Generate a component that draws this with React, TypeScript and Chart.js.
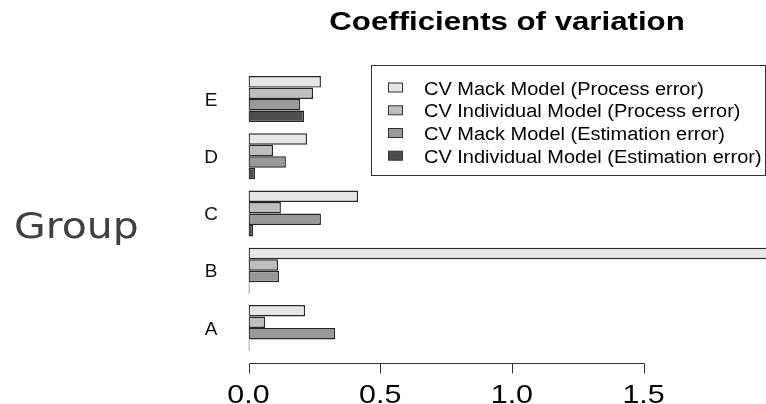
import React, { useEffect, useRef } from "react";
import { Chart, registerables } from "chart.js";

Chart.register(...registerables);

const categories = ["E", "D", "C", "B", "A"];
const seriesNames = [
  "CV Mack Model (Process error)",
  "CV Individual Model (Process error)",
  "CV Mack Model (Estimation error)",
  "CV Individual Model (Estimation error)",
];
const mackProcess = [0.275, 0.222, 0.416, 2.0, 0.215];
const indivProcess = [0.245, 0.093, 0.123, 0.112, 0.063];
const mackEstimation = [0.196, 0.142, 0.275, 0.116, 0.329];
const indivEstimation = [0.211, 0.025, 0.017, 0.004, 0.004];
const xTicks = [0, 0.5, 1.0, 1.5];
const seriesColors = ["#e6e6e6", "#bebebe", "#999999", "#4d4d4d"];

const SANS = "'Liberation Sans', Arial, sans-serif";

function drawText(
  ctx: CanvasRenderingContext2D,
  text: string,
  x: number,
  y: number,
  font: string,
  color: string,
  align: CanvasTextAlign,
  baseline: CanvasTextBaseline,
  sx: number
) {
  ctx.save();
  ctx.translate(x, y);
  ctx.scale(sx, 1);
  ctx.font = font;
  ctx.fillStyle = color;
  ctx.textAlign = align;
  ctx.textBaseline = baseline;
  ctx.fillText(text, 0, 0);
  ctx.restore();
}

const decorPlugin = {
  id: "decor",
  afterDraw(chart: any) {
    const ctx: CanvasRenderingContext2D = chart.ctx;
    const xs = chart.scales.x;
    const ys = chart.scales.y;

    // Title
    drawText(ctx, "Coefficients of variation", 507, 29.5, `bold 26px ${SANS}`, "#000", "center", "alphabetic", 1.2);

    // Y axis title
    drawText(ctx, "Group", 14, 238, "35px 'DejaVu Sans', sans-serif", "#3d4145", "left", "alphabetic", 1.17);

    // Category labels
    categories.forEach((c, i) => {
      const y = ys.getPixelForValue(i);
      drawText(ctx, c, 211, y + 1.5, `19px ${SANS}`, "#111", "center", "middle", 1.0);
    });

    // X axis
    const axisY = 363.5;
    ctx.save();
    ctx.strokeStyle = "#333";
    ctx.lineWidth = 1;
    ctx.beginPath();
    const x0 = Math.round(xs.getPixelForValue(xTicks[0])) + 0.5;
    const x1 = Math.round(xs.getPixelForValue(xTicks[xTicks.length - 1])) + 0.5;
    ctx.moveTo(x0, axisY);
    ctx.lineTo(x1, axisY);
    xTicks.forEach((t) => {
      const px = Math.round(xs.getPixelForValue(t)) + 0.5;
      ctx.moveTo(px, axisY);
      ctx.lineTo(px, axisY + 10);
    });
    ctx.stroke();
    ctx.restore();
    xTicks.forEach((t) => {
      const px = xs.getPixelForValue(t);
      drawText(ctx, t.toFixed(1), px, 403, `26px ${SANS}`, "#000", "center", "alphabetic", 1.17);
    });

    // Legend
    ctx.save();
    ctx.strokeStyle = "#333";
    ctx.lineWidth = 1;
    ctx.strokeRect(371.5, 65.5, 394, 110);
    ctx.restore();
    const baselines = [94.5, 117.3, 140, 162.7];
    seriesNames.forEach((name, i) => {
      const b = baselines[i];
      ctx.save();
      ctx.fillStyle = seriesColors[i];
      ctx.strokeStyle = "#333";
      ctx.lineWidth = 1;
      ctx.fillRect(388.5, b - 11.5, 14, 9);
      ctx.strokeRect(388.5, b - 11.5, 14, 9);
      ctx.restore();
      drawText(ctx, name, 424, b, `18px ${SANS}`, "#000", "left", "alphabetic", 1.11);
    });
  },
};

export default function App() {
  const canvasRef = useRef<HTMLCanvasElement | null>(null);

  useEffect(() => {
    const canvas = canvasRef.current;
    if (!canvas) return;
    const values = [mackProcess, indivProcess, mackEstimation, indivEstimation];
    const chart = new Chart(canvas, {
      type: "bar",
      data: {
        labels: categories,
        datasets: seriesNames.map((name, i) => ({
          label: name,
          data: values[i],
          backgroundColor: seriesColors[i],
          borderColor: "#262626",
          borderWidth: 1.4,
          borderSkipped: false,
          categoryPercentage: 0.803,
          barPercentage: 1.0,
        })),
      },
      options: {
        indexAxis: "y",
        animation: false,
        responsive: false,
        devicePixelRatio: 1,
        layout: { padding: { left: 248.5, right: 0, top: 70.4, bottom: 47.4 } },
        plugins: {
          legend: { display: false },
          title: { display: false },
          tooltip: { enabled: false },
        },
        scales: {
          x: { type: "linear", min: 0, max: 1.965, display: false },
          y: { type: "category", display: false, offset: true },
        },
      },
      plugins: [decorPlugin],
    });
    return () => chart.destroy();
  }, []);

  return (
    <div style={{ position: "fixed", left: 0, top: 0, width: 766, height: 404, background: "#fff" }}>
      <canvas ref={canvasRef} width={766} height={404} />
    </div>
  );
}
